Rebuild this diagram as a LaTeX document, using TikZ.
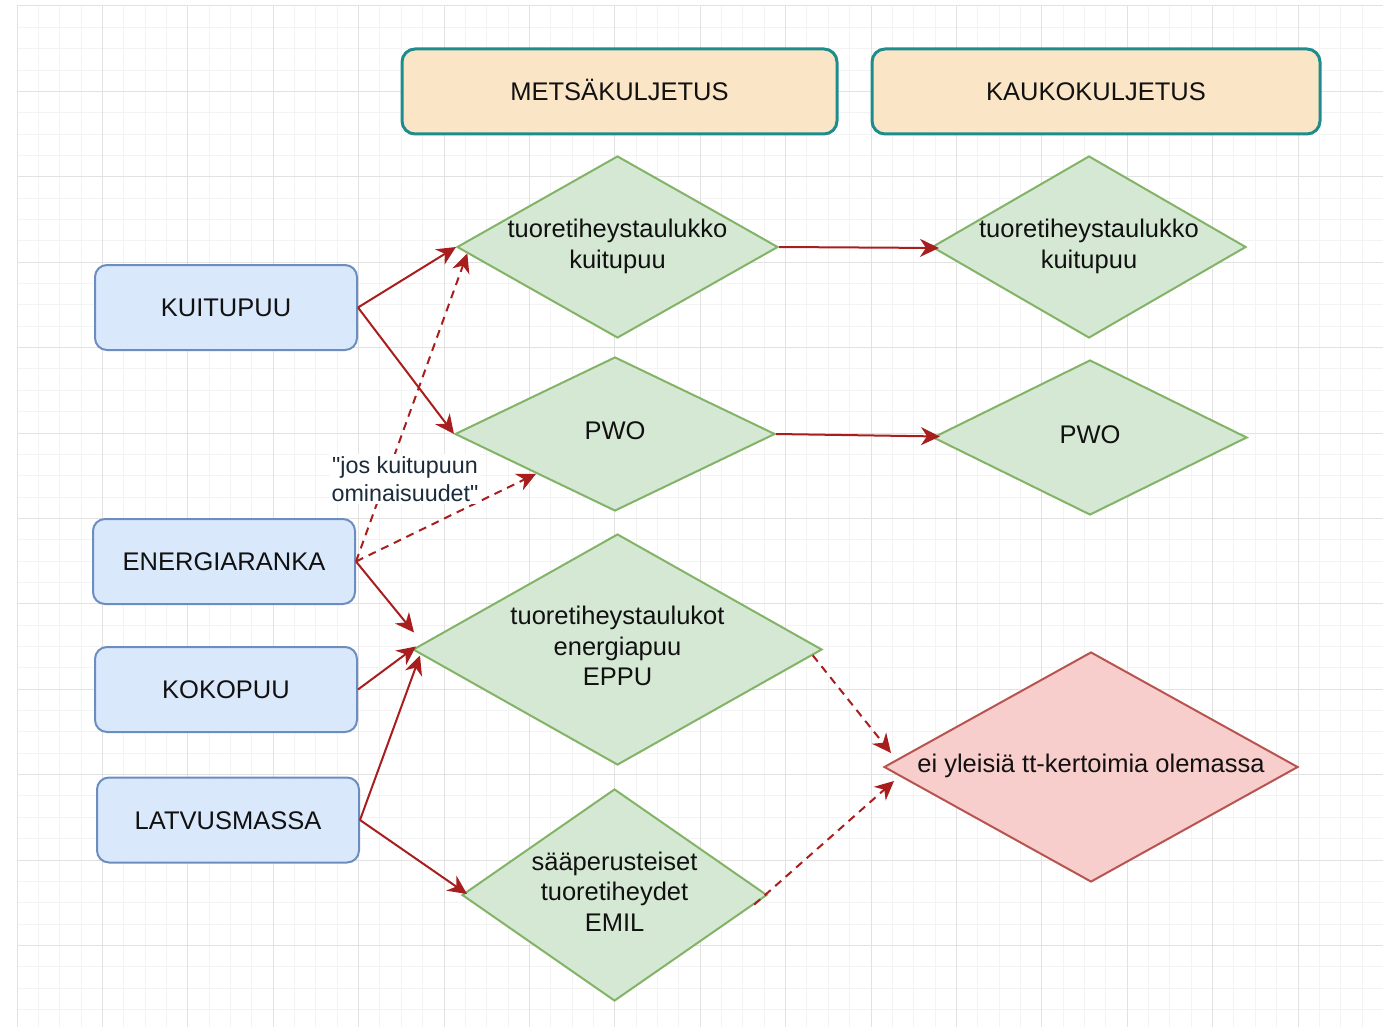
\documentclass[tikz,border=0pt]{standalone}
\usepackage{fontspec}
\setmainfont{Liberation Sans}
\newfontfamily\lblfont{Liberation Sans}[Ligatures=TeXOff]
\usetikzlibrary{shapes.geometric,arrows.meta,calc}
\definecolor{gridminor}{HTML}{F3F3F3}
\definecolor{gridmajor}{HTML}{E2E2E2}
\definecolor{hdrfill}{HTML}{FAE5C7}
\definecolor{hdrline}{HTML}{1E8C8C}
\definecolor{blufill}{HTML}{DAE8FC}
\definecolor{bluline}{HTML}{6C8EBF}
\definecolor{grnfill}{HTML}{D5E8D4}
\definecolor{grnline}{HTML}{82B366}
\definecolor{redfill}{HTML}{F8CECC}
\definecolor{redline}{HTML}{B85450}
\definecolor{arrcol}{HTML}{A81E1E}
\definecolor{txtcol}{HTML}{111111}
\definecolor{lblcol}{HTML}{1C2B3A}
\newcommand{\mainfs}{\fontsize{25.5}{30.5}\selectfont}
\newcommand{\lblfs}{\lblfont\fontsize{23.3}{28}\selectfont}
\newcommand{\dtx}[1]{\smash{\raisebox{-6pt}{\makebox[0pt]{\begin{tabular}{@{}c@{}}#1\end{tabular}}}}}
\begin{document}
\begin{tikzpicture}[x=1pt,y=-1pt,
  hdr/.style={draw=hdrline, fill=hdrfill, line width=3pt, rounded corners=13pt,
    minimum height=85pt, inner sep=0pt, text height=18.4pt, text depth=0pt,
    font=\mainfs, text=txtcol},
  blk/.style={draw=bluline, fill=blufill, line width=2pt, rounded corners=12pt,
    minimum width=262pt, minimum height=85pt, inner sep=0pt, text height=18.4pt,
    text depth=0pt, font=\mainfs, text=txtcol},
  dia/.style={diamond, draw=grnline, fill=grnfill, line width=2pt, inner sep=0pt,
    font=\mainfs, text=txtcol},
  rdia/.style={dia, draw=redline, fill=redfill},
  arr/.style={draw=arrcol, line width=2pt, -{Stealth[length=19pt,width=18pt,inset=6pt]}},
  darr/.style={arr, dash pattern=on 8pt off 6pt},
  lbl/.style={fill=white, inner sep=2pt, align=center, font=\lblfs, text=lblcol}
]
\useasboundingbox (0,0) rectangle (1383,1027);
% grid
\foreach \i in {0,...,64}{
  \pgfmathsetmacro{\gx}{17+21.35*\i}
  \draw[gridminor, line width=1pt] (\gx,6) -- (\gx,1027);
}
\foreach \j in {0,...,47}{
  \pgfmathsetmacro{\gy}{6+21.35*\j}
  \draw[gridminor, line width=1pt] (17,\gy) -- (1383,\gy);
}
\foreach \i in {0,...,16}{
  \pgfmathsetmacro{\gx}{17+85.4*\i}
  \draw[gridmajor, line width=1pt] (\gx,6) -- (\gx,1027);
}
\foreach \j in {0,...,11}{
  \pgfmathsetmacro{\gy}{6+85.4*\j}
  \draw[gridmajor, line width=1pt] (17,\gy) -- (1383,\gy);
}
% headers
\node[hdr, minimum width=435pt] (met) at (619.5,91.5) {METSÄKULJETUS};
\node[hdr, minimum width=448pt] (kau) at (1096,91.5) {KAUKOKULJETUS};
% blue boxes
\node[blk] (kui) at (226,307.5) {KUITUPUU};
\node[blk] (ene) at (224,561.5) {ENERGIARANKA};
\node[blk] (kok) at (226,689.5) {KOKOPUU};
\node[blk] (lat) at (228,820) {LATVUSMASSA};
% diamonds
\node[dia, minimum width=321pt, minimum height=182pt] (d1) at (617.5,247) {\dtx{tuoretiheystaulukko\\kuitupuu}};
\node[dia, minimum width=320pt, minimum height=154pt] (d2) at (615,434) {\dtx{PWO}};
\node[dia, minimum width=314pt, minimum height=182pt] (d3) at (1089,247) {\dtx{tuoretiheystaulukko\\kuitupuu}};
\node[dia, minimum width=314pt, minimum height=155pt] (d4) at (1090,437.5) {\dtx{PWO}};
\node[dia, minimum width=409pt, minimum height=231pt] (d5) at (617.5,649.5) {\dtx{tuoretiheystaulukot\\energiapuu\\EPPU}};
\node[dia, minimum width=305pt, minimum height=212pt] (d6) at (614.5,895) {\dtx{sääperusteiset\\tuoretiheydet\\EMIL}};
\node[rdia, minimum width=414pt, minimum height=230pt] (red) at (1091,767) {\dtx{ei yleisiä tt-kertoimia olemassa}};
% solid connectors
\draw[arr] (kui.east) -- (d1.west);
\draw[arr] (kui.east) -- (d2.west);
\draw[arr] (d1.east) -- ($(d3.west)+(8,1)$);
\draw[arr] (d2.east) -- ($(d4.west)+(8,-1)$);
\draw[arr] (ene.east) -- ($(d5.west)+(2,-17)$);
\draw[arr] (kok.east) -- ($(d5.west)+(4,-3)$);
\draw[arr] (lat.east) -- ($(d5.west)+(8,6)$);
\draw[arr] (lat.east) -- ($(d6.west)+(6,-1)$);
% dashed connectors
\draw[darr] (ene.east) -- ($(d1.west)!0.07!(d1.south)$);
\draw[darr] (ene.east) -- ($(d2.west)!0.51!(d2.south)$);
\draw[darr] ($(d5.east)!0.05!(d5.south)$) -- ($(red.west)+(8,-14)$);
\draw[darr] ($(d6.east)!0.09!(d6.south)$) -- ($(red.west)+(11,14)$);
% edge label
\node[lbl] (note) at (405,479) {"jos kuitupuun\\ominaisuudet"};
\end{tikzpicture}
\end{document}
